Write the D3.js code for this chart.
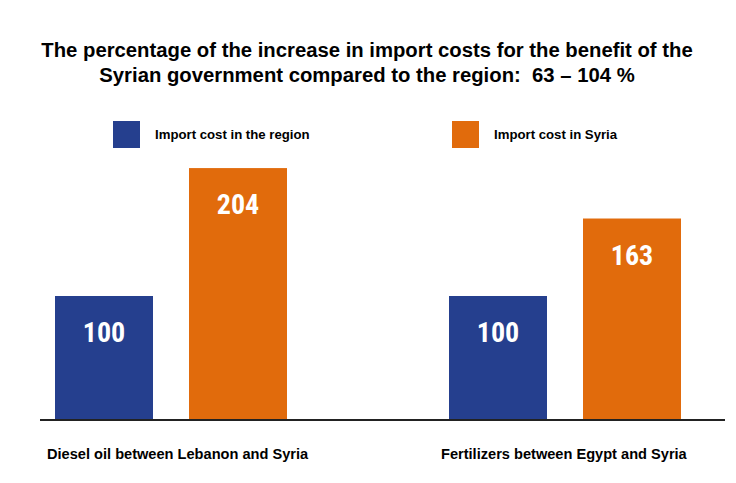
<!DOCTYPE html><html><head><meta charset="utf-8"><script src="https://cdn.jsdelivr.net/npm/d3@7"></script>
<style>body{margin:0;background:#fff}svg{font-family:"Liberation Sans",Arial,sans-serif}</style></head><body><svg width="736" height="483"></svg><script>
const categories=["Diesel oil between Lebanon and Syria","Fertilizers between Egypt and Syria"];
const series=["Import cost in the region","Import cost in Syria"];
const regionValues=[100,100];
const syriaValues=[204,163];
const colors=["#253f8e","#e16b0c"];
const svg=d3.select("svg");
const baseY=419;
const y=d3.scaleLinear().domain([0,100]).range([baseY,296]);
const groupX=d3.scalePoint().domain(categories).range([55,449]);
const sub=d3.scaleOrdinal().domain(series).range([0,134]);
const bw=98;
const title=["The percentage of the increase in import costs for the benefit of the","Syrian government compared to the region:  63 – 104 %"];
svg.selectAll("text.t").data(title).join("text").attr("x",367).attr("y",(d,i)=>57+i*25).attr("text-anchor","middle").attr("font-weight","bold").attr("font-size",20.3).attr("xml:space","preserve").style("white-space","pre").text(d=>d);
const legX=[113,452];
series.forEach((s,i)=>{svg.append("rect").attr("x",legX[i]).attr("y",121).attr("width",27).attr("height",27).attr("fill",colors[i]);
svg.append("text").attr("x",legX[i]+42).attr("y",139).attr("font-size",13.2).attr("font-weight","bold").text(s);});
const vals=[regionValues,syriaValues];
categories.forEach((c,ci)=>{series.forEach((s,si)=>{const v=vals[si][ci];const x=groupX(c)+sub(s);
svg.append("rect").attr("x",x).attr("y",y(v)).attr("width",bw).attr("height",baseY-y(v)).attr("fill",colors[si]);
svg.append("text").attr("x",x+bw/2).attr("y",y(v)+46).attr("text-anchor","middle").attr("fill","#fff").attr("font-weight","bold").attr("font-size",28).attr("font-family","'Liberation Sans Narrow','Roboto Condensed',Arial").text(v);});
svg.append("text").attr("x",groupX(c)-8).attr("y",459).attr("font-size",14.6).attr("font-weight","bold").text(c);});
svg.append("line").attr("x1",40).attr("x2",725).attr("y1",baseY+1).attr("y2",baseY+1).attr("stroke","#222").attr("stroke-width",2);
</script></body></html>
